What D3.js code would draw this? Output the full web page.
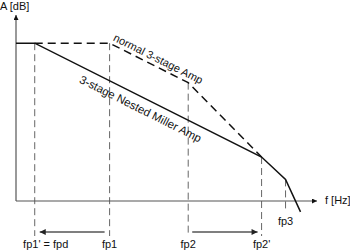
<!DOCTYPE html>
<html>
<head>
<meta charset="utf-8">
<script src="https://cdn.jsdelivr.net/npm/d3@7"></script>
<style>
body { margin: 0; background: #fff; }
svg { display: block; font-family: Arial, "Liberation Sans", sans-serif; }
</style>
</head>
<body>
<svg id="chart" width="350" height="252"></svg>
<script>
// frequencies in decades relative to fp1' (log10 f), gain in dB
var poles = ["fp1' = fpd", "fp1", "fp2", "fp2'", "fp3"];
var poleX = [0, 1, 2.05, 3.03, 3.35];
var nestedX = [-0.25, 0, 3.03, 3.35, 3.55];
var nestedDb = [84, 84, 23.4, 11.5, -5.8];
var normalX = [0, 1, 2.05, 3.03];
var normalDb = [84, 84, 63, 23.4];
// top of each guide line (dB), sits on a curve
var guideTopDb = [84, 84, 63, 23.4, 11.5];
var axisLabels = ["A [dB]", "f [Hz]"];
var curveLabels = ["normal 3-stage Amp", "3-stage Nested Miller Amp"];

var svg = d3.select("#chart");

var x = d3.scaleLinear().domain([-0.25, 3.77]).range([16, 317]);
var y = d3.scaleLinear().domain([0, 99]).range([201, 15]);

var defs = svg.append("defs");
function marker(id, col, w, h) {
  defs.append("marker").attr("id", id)
    .attr("viewBox", "0 0 10 10").attr("refX", 10).attr("refY", 5)
    .attr("markerWidth", w).attr("markerHeight", h)
    .attr("markerUnits", "userSpaceOnUse").attr("orient", "auto")
    .append("path").attr("d", "M0,0L10,5L0,10Z").attr("fill", col);
}
marker("axArrow", "#111", 7, 5);
marker("grArrow", "#222", 8, 6);

/// vertical guides
var guideBottom = [236, 236, 235, 236, 211];
svg.append("g").selectAll("line").data(poleX).join("line")
  .attr("x1", d => x(d)).attr("x2", d => x(d))
  .attr("y1", (d, i) => y(guideTopDb[i]))
  .attr("y2", (d, i) => guideBottom[i])
  .attr("stroke", "#666").attr("stroke-width", 1)
  .attr("stroke-dasharray", "7,4");

/// axes
svg.append("line").attr("x1", x(-0.25)).attr("x2", x(-0.25))
  .attr("y1", y(0)).attr("y2", y(99))
  .attr("stroke", "#555").attr("stroke-width", 1.2)
  .attr("marker-end", "url(#axArrow)");
svg.append("line").attr("x1", x(-0.25)).attr("x2", x(3.77))
  .attr("y1", y(0)).attr("y2", y(0))
  .attr("stroke", "#555").attr("stroke-width", 1.2)
  .attr("marker-end", "url(#axArrow)");

svg.append("text").attr("x", 0).attr("y", 10)
  .attr("font-size", 11).attr("fill", "#111").text(axisLabels[0]);
svg.append("text").attr("x", 325).attr("y", 204)
  .attr("font-size", 11).attr("fill", "#111").text(axisLabels[1]);

/// curves
var line = d3.line().x(d => x(d[0])).y(d => y(d[1]));
svg.append("path")
  .datum(normalX.map((d, i) => [d, normalDb[i]]))
  .attr("d", line).attr("fill", "none")
  .attr("stroke", "#111").attr("stroke-width", 1.5)
  .attr("stroke-dasharray", "8,5");
svg.append("path")
  .datum(nestedX.map((d, i) => [d, nestedDb[i]]))
  .attr("d", line).attr("fill", "none")
  .attr("stroke", "#111").attr("stroke-width", 1.5);

/// curve labels, rotated to the slopes
var a1 = Math.atan2(y(normalDb[2]) - y(normalDb[1]), x(normalX[2]) - x(normalX[1])) * 180 / Math.PI;
var a2 = Math.atan2(y(nestedDb[2]) - y(nestedDb[1]), x(nestedX[2]) - x(nestedX[1])) * 180 / Math.PI;
svg.append("text")
  .attr("transform", "translate(" + (x(normalX[1]) + 3) + "," + (y(normalDb[1]) - 3) + ") rotate(" + a1 + ")")
  .attr("font-size", 11).attr("fill", "#111").text(curveLabels[0]);
svg.append("text")
  .attr("transform", "translate(78.5," + (y(nestedDb[1]) + 39) + ") rotate(" + a2 + ")")
  .attr("font-size", 11.5).attr("fill", "#111").text(curveLabels[1]);

/// pole shift arrows
svg.append("line").attr("x1", x(poleX[1]) - 5).attr("x2", x(poleX[0]) + 5)
  .attr("y1", 232).attr("y2", 232)
  .attr("stroke", "#555").attr("stroke-width", 1.5)
  .attr("marker-end", "url(#grArrow)");
svg.append("line").attr("x1", x(poleX[2]) + 4).attr("x2", x(poleX[3]) - 4)
  .attr("y1", 232).attr("y2", 232)
  .attr("stroke", "#555").attr("stroke-width", 1.5)
  .attr("marker-end", "url(#grArrow)");

/// pole labels
var labelY = [248, 248, 248, 248, 225];
svg.append("g").selectAll("text").data(poles).join("text")
  .attr("x", (d, i) => x(poleX[i]) + (i === 0 ? 11 : 0))
  .attr("y", (d, i) => labelY[i])
  .attr("text-anchor", "middle")
  .attr("font-size", 11).attr("fill", "#111")
  .text(d => d);
</script>
</body>
</html>
